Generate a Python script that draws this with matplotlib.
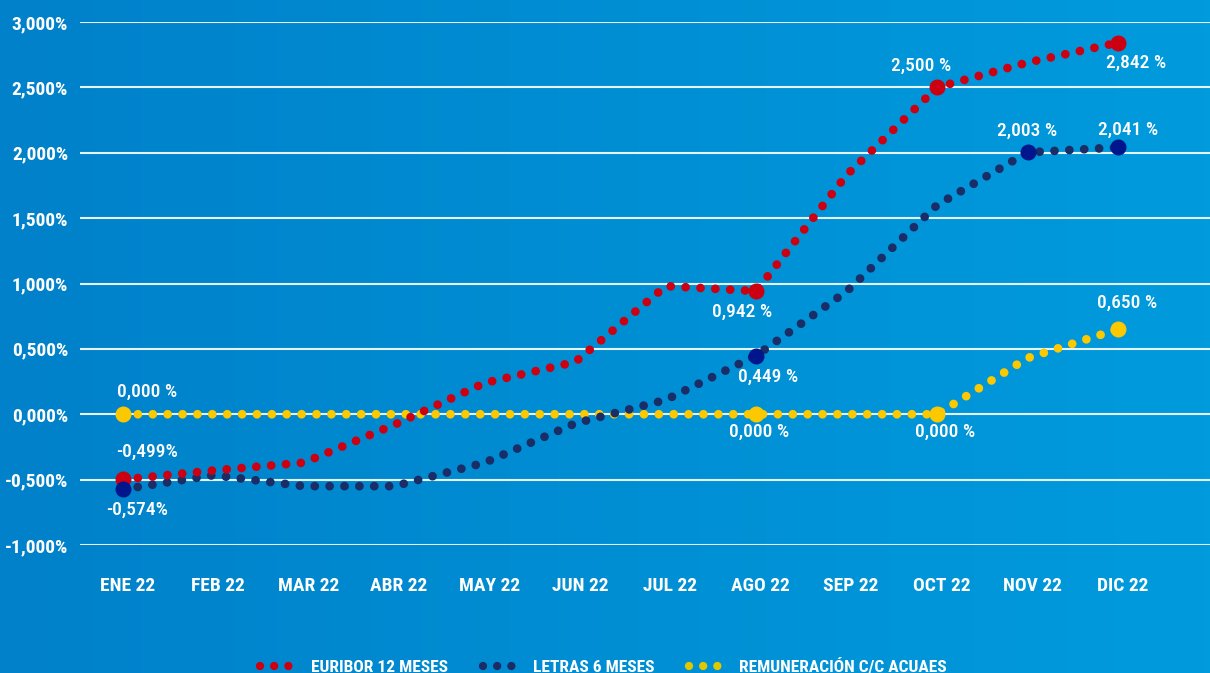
import matplotlib.pyplot as plt
import numpy as np
from matplotlib.lines import Line2D
from matplotlib.colors import LinearSegmentedColormap
from matplotlib import font_manager

meses = ['ENE 22', 'FEB 22', 'MAR 22', 'ABR 22', 'MAY 22', 'JUN 22',
         'JUL 22', 'AGO 22', 'SEP 22', 'OCT 22', 'NOV 22', 'DIC 22']
euribor = [-0.499, -0.43, -0.37, -0.08, 0.24, 0.40, 0.98, 0.942, 1.83, 2.500, 2.69, 2.842]
letras = [-0.574, -0.466, -0.55, -0.55, -0.37, -0.07, 0.11, 0.449, 0.94, 1.60, 2.003, 2.041]
remuneracion = [0, 0, 0, 0, 0, 0, 0, 0, 0, 0, 0.43, 0.650]

yticks = [-1.0, -0.5, 0.0, 0.5, 1.0, 1.5, 2.0, 2.5, 3.0]
ytick_labels = ['-1,000%', '-0,500%', '0,000%', '0,500%', '1,000%',
                '1,500%', '2,000%', '2,500%', '3,000%']

# puntos destacados: (serie, mes, texto, desplazamiento en pixeles)
etiquetas = [
    ('euribor', 0, '-0,499%', (24, 28)),
    ('letras', 0, '-0,574%', (14, -21)),
    ('remuneracion', 0, '0,000 %', (24, 22)),
    ('euribor', 7, '0,942 %', (-14, -21)),
    ('letras', 7, '0,449 %', (12, -21)),
    ('remuneracion', 7, '0,000 %', (3, -18)),
    ('euribor', 9, '2,500 %', (-16, 22)),
    ('remuneracion', 9, '0,000 %', (8, -18)),
    ('letras', 10, '2,003 %', (0, 22)),
    ('letras', 11, '2,041 %', (10, 18)),
    ('euribor', 11, '2,842 %', (18, -20)),
    ('remuneracion', 11, '0,650 %', (9, 26)),
]

instaladas = {f.name for f in font_manager.fontManager.ttflist}
candidatas = ['Roboto Condensed', 'DejaVu Sans Condensed', 'Liberation Sans Narrow', 'DejaVu Sans']
fuente = [f for f in candidatas if f in instaladas] or ['DejaVu Sans']
plt.rcParams['font.family'] = fuente
plt.rcParams['font.stretch'] = 'condensed'

rojo = '#cc0010'
azul = '#1a2d66'
azul_punto = '#00168c'
amarillo = '#fcc800'

series = {
    'euribor': (euribor, rojo, rojo),
    'letras': (letras, azul, azul_punto),
    'remuneracion': (remuneracion, amarillo, amarillo),
}

fig = plt.figure(figsize=(12.1, 6.73), dpi=100)

# fondo degradado
bg = fig.add_axes([0, 0, 1, 1], zorder=-10)
grad = np.linspace(0, 1, 256).reshape(1, -1)
cmap = LinearSegmentedColormap.from_list('fondo', ['#0081ca', '#009bdd'])
bg.imshow(grad, aspect='auto', cmap=cmap, extent=[0, 1, 0, 1])
bg.axis('off')

ax = fig.add_axes([80 / 1210, 128 / 673, 1130 / 1210, 523 / 673])
ax.patch.set_alpha(0)
x = np.arange(len(meses))
punteado = (0, (0.001, 1.7))

for nombre in ['remuneracion', 'letras', 'euribor']:
    vals, color, _ = series[nombre]
    ax.plot(x, vals, color=color, lw=6.3, linestyle=punteado,
            dash_capstyle='round', zorder=3, clip_on=False)

for nombre, i, texto, off in etiquetas:
    vals, _, cpunto = series[nombre]
    ax.plot(x[i], vals[i], 'o', color=cpunto, ms=10.5, zorder=4, clip_on=False)
    ax.annotate(texto, (x[i], vals[i]), xytext=off, textcoords='offset pixels',
                ha='center', va='center', color='white', fontsize=14,
                fontweight='medium')

ax.set_xlim(-43 / 90.45, 11 + 92 / 90.45)
ax.set_ylim(-1.0, 3.0)
ax.set_yticks(yticks)
ax.set_yticklabels(ytick_labels)
ax.set_xticks(x + 0.05)
ax.set_xticklabels(meses)
ax.yaxis.grid(True, color='white', lw=1.5, alpha=0.9, zorder=1)
ax.set_axisbelow(True)
ax.tick_params(length=0, colors='white', labelsize=14)
ax.tick_params(axis='y', pad=8.5)
ax.tick_params(axis='x', pad=23)
for lbl in ax.get_xticklabels() + ax.get_yticklabels():
    lbl.set_fontweight('bold')
for s in ax.spines.values():
    s.set_visible(False)

handles = [
    Line2D([], [], color=rojo, lw=6.0, linestyle=punteado, dash_capstyle='round'),
    Line2D([], [], color=azul, lw=6.0, linestyle=punteado, dash_capstyle='round'),
    Line2D([], [], color='#e0c800', lw=6.0, linestyle=punteado, dash_capstyle='round'),
]
leg = fig.legend(handles, ['EURIBOR 12 MESES', 'LETRAS 6 MESES', 'REMUNERACIÓN C/C ACUAES'],
                 loc='lower center', bbox_to_anchor=(0.499, -0.026), ncol=3, frameon=False,
                 handlelength=1.8, handletextpad=1.1, columnspacing=2.0,
                 prop={'size': 12.5, 'weight': 'bold', 'family': fuente, 'stretch': 'condensed'})
for t in leg.get_texts():
    t.set_color('white')

fig.savefig('out.png', dpi=100)
